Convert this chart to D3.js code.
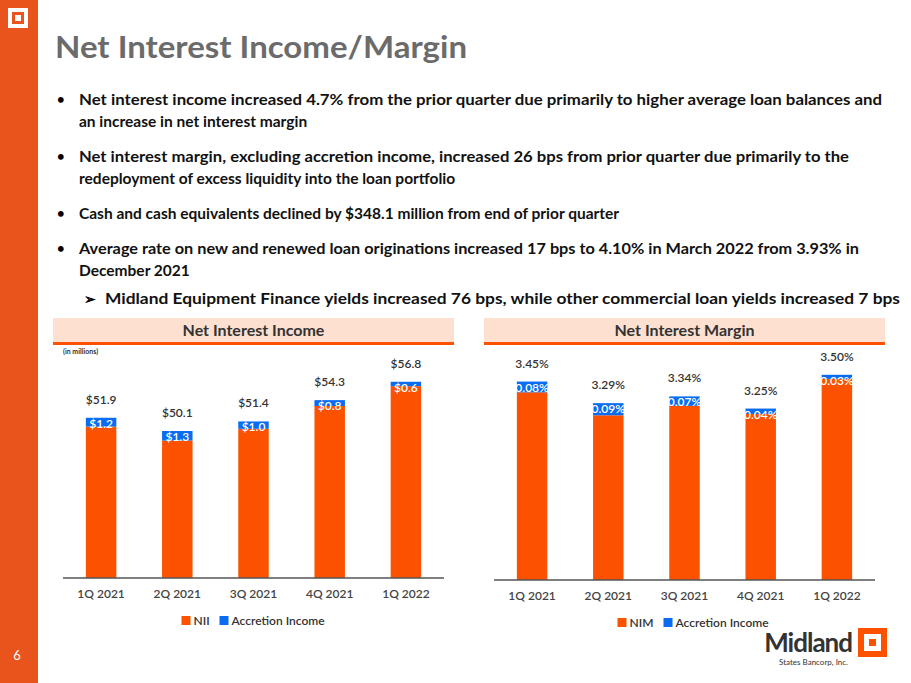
<!DOCTYPE html><html><head><meta charset="utf-8"><script src="https://cdn.jsdelivr.net/npm/d3@7"></script>
<style>body{margin:0;background:#fff;font-family:Lato,"Open Sans",sans-serif}</style></head><body><svg id="s" width="911" height="683"></svg>
<script>
const categories=["1Q 2021","2Q 2021","3Q 2021","4Q 2021","1Q 2022"];
const niiTotal=[51.9,50.1,51.4,54.3,56.8];
const niiAccretion=[1.2,1.3,1.0,0.8,0.6];
const nimTotal=[3.45,3.29,3.34,3.25,3.50];
const nimAccretion=[0.08,0.09,0.07,0.04,0.03];
const bullets=[
 ["Net interest income increased 4.7% from the prior quarter due primarily to higher average loan balances and","an increase in net interest margin"],
 ["Net interest margin, excluding accretion income, increased 26 bps from prior quarter due primarily to the","redeployment of excess liquidity into the loan portfolio"],
 ["Cash and cash equivalents declined by $348.1 million from end of prior quarter"],
 ["Average rate on new and renewed loan originations increased 17 bps to 4.10% in March 2022 from 3.93% in","December 2021"]];
const bulletY=[105,162,219,254];
const OR="#fc5200",BL="#0a6cf0";
const svg=d3.select("#s");
svg.append("rect").attr("width",38).attr("height",683).attr("fill","#e8541c");
svg.append("rect").attr("x",8).attr("y",8).attr("width",20).attr("height",20).attr("fill","#fff");
svg.append("rect").attr("x",12).attr("y",12).attr("width",12).attr("height",12).attr("fill","#e8541c");
svg.append("rect").attr("x",15).attr("y",15).attr("width",6).attr("height",6).attr("fill","#fff");
svg.append("text").attr("x",17).attr("y",660).attr("fill","#fff").attr("font-size",13).attr("text-anchor","middle").text("6");
svg.append("text").attr("x",55).attr("y",58).attr("fill","#6b6b6b").attr("font-size",31).attr("font-weight","bold").attr("textLength",412).attr("lengthAdjust","spacingAndGlyphs").text("Net Interest Income/Margin");
bullets.forEach((b,j)=>{const y=bulletY[j];
 svg.append("text").attr("x",57).attr("y",y-1).attr("font-size",13).attr("font-weight","bold").text("•");
 b.forEach((l,i)=>{const t=svg.append("text").attr("x",79).attr("y",y+i*22).attr("font-size",15.5).attr("font-weight","bold").attr("fill","#111").text(l);
  if(i===0&&b.length>1)t.attr("textLength",[803,770,0,780][j]).attr("lengthAdjust","spacingAndGlyphs");});});
svg.append("text").attr("x",84).attr("y",304).attr("font-size",14).attr("font-weight","bold").text("➢");
svg.append("text").attr("x",105).attr("y",304).attr("font-size",15.5).attr("font-weight","bold").attr("fill","#111").attr("textLength",795).attr("lengthAdjust","spacingAndGlyphs").text("Midland Equipment Finance yields increased 76 bps, while other commercial loan yields increased 7 bps");
function chart(x0,x1,base,title,tot,acc,dmin,k,fmt,leg,small){
 svg.append("rect").attr("x",x0-10).attr("y",318).attr("width",x1-x0+20).attr("height",25).attr("fill","#fde0d0");
 svg.append("rect").attr("x",x0-10).attr("y",342).attr("width",x1-x0+20).attr("height",3).attr("fill",OR);
 svg.append("text").attr("x",(x0+x1)/2).attr("y",336).attr("text-anchor","middle").attr("font-size",16).attr("font-weight","bold").attr("fill","#333").text(title);
 const xs=d3.scaleBand().domain(categories).range([x0,x1]).paddingInner(0.6).paddingOuter(0.3);
 const ys=d3.scaleLinear().domain([dmin,dmin+base/k]).range([base,0]);
 const g=svg.append("g");
 categories.forEach((c,i)=>{const bx=xs(c),w=xs.bandwidth();
  g.append("rect").attr("x",bx).attr("y",ys(tot[i]-acc[i])).attr("width",w).attr("height",base-ys(tot[i]-acc[i])).attr("fill",OR);
  const ta=ys(tot[i]),hb=ys(tot[i]-acc[i])-ta;
  g.append("rect").attr("x",bx).attr("y",ta).attr("width",w).attr("height",Math.max(hb,4)).attr("fill",BL);
  g.append("text").attr("x",bx+w/2).attr("y",ta+10).attr("text-anchor","middle").attr("font-size",12).attr("font-weight",600).attr("fill","#fff").text(fmt[1](acc[i]));
  g.append("text").attr("x",bx+w/2).attr("y",ta-14).attr("text-anchor","middle").attr("font-size",12).attr("font-weight",600).attr("fill","#333").text(fmt[0](tot[i]));
  g.append("text").attr("x",bx+w/2).attr("y",base+20).attr("text-anchor","middle").attr("font-size",12).attr("font-weight",600).attr("fill","#444").text(c);
 });
 svg.append("line").attr("x1",x0).attr("x2",x1).attr("y1",base).attr("y2",base).attr("stroke","#555").attr("stroke-width",1.5);
 const lx=(x0+x1)/2-72+ (leg[0]==="NIM"?5:0);
 svg.append("rect").attr("x",lx).attr("y",base+38).attr("width",9).attr("height",9).attr("fill",OR);
 svg.append("text").attr("x",lx+12).attr("y",base+47).attr("font-size",12).attr("font-weight",600).attr("fill","#333").text(leg[0]);
 const l2=lx+(leg[0]==="NIM"?46:38);
 svg.append("rect").attr("x",l2).attr("y",base+38).attr("width",9).attr("height",9).attr("fill",BL);
 svg.append("text").attr("x",l2+12).attr("y",base+47).attr("font-size",12).attr("font-weight",600).attr("fill","#333").text(leg[1]);
 if(small)svg.append("text").attr("x",x0).attr("y",354).attr("font-size",7).attr("font-weight","bold").attr("fill","#333").text(small);
}
chart(63,444,578,"Net Interest Income",niiTotal,niiAccretion,30.1,7.35,[v=>"$"+v.toFixed(1),v=>"$"+v.toFixed(1)],["NII","Accretion Income"],"(in millions)");
chart(494,875,580,"Net Interest Margin",nimTotal,nimAccretion,1.98,135,[v=>v.toFixed(2)+"%",v=>v.toFixed(2)+"%"],["NIM","Accretion Income"]);
svg.append("text").attr("x",852).attr("y",652).attr("text-anchor","end").attr("font-size",26).attr("font-weight","bold").attr("fill","#333").attr("letter-spacing",-1).text("Midland");
svg.append("text").attr("x",848).attr("y",665).attr("text-anchor","end").attr("font-size",8).attr("fill","#333").text("States Bancorp, Inc.");
svg.append("rect").attr("x",858).attr("y",628).attr("width",29).attr("height",29).attr("fill",OR);
svg.append("rect").attr("x",864).attr("y",634).attr("width",17).attr("height",17).attr("fill","#fff");
svg.append("rect").attr("x",869).attr("y",639).attr("width",7).attr("height",7).attr("fill",OR);
</script></body></html>
